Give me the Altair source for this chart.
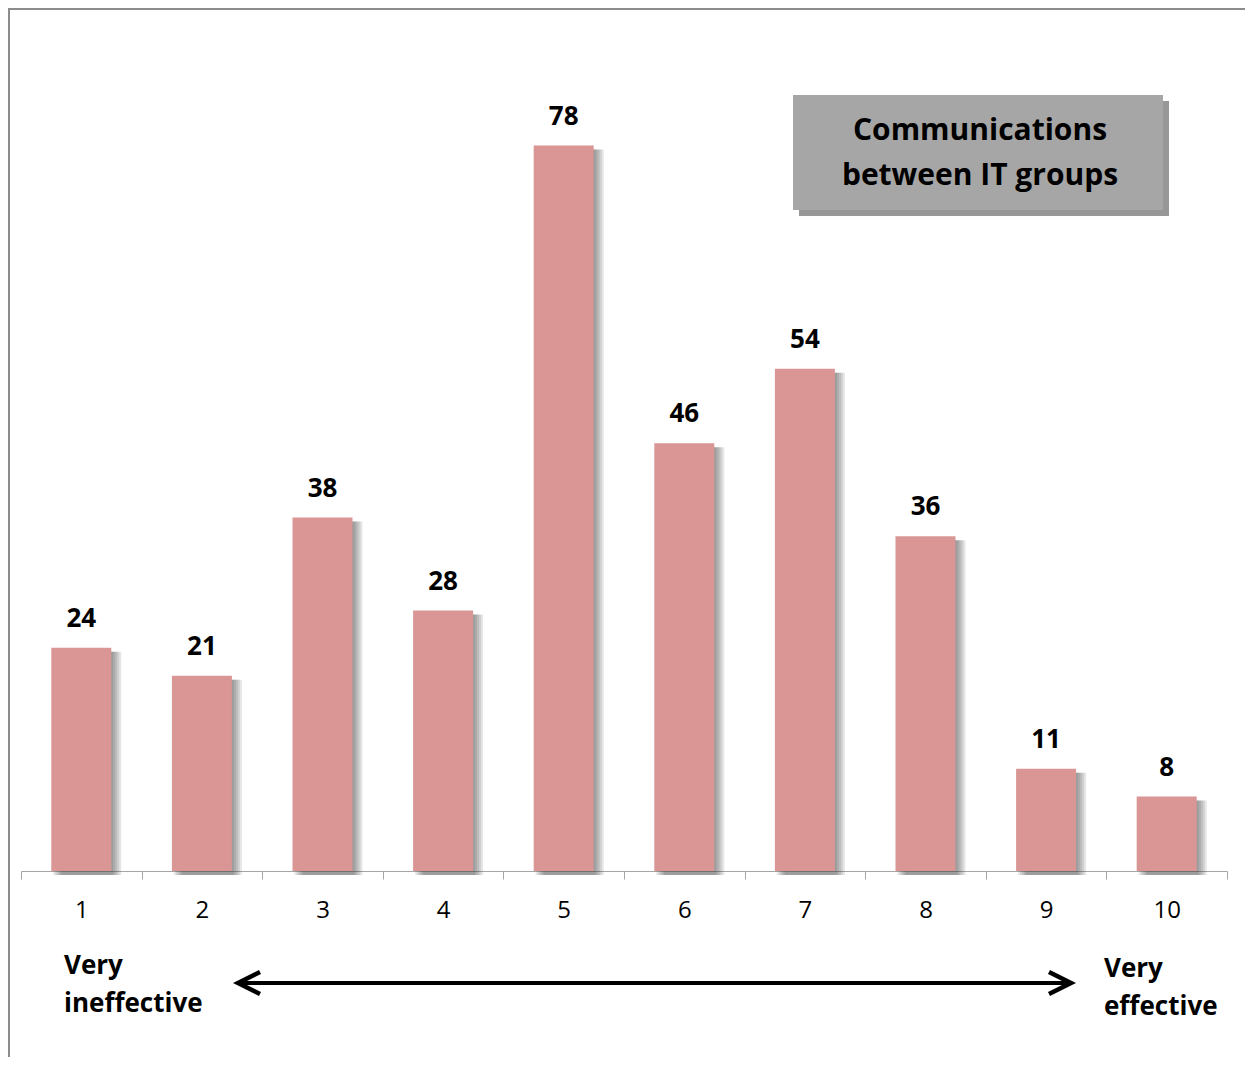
import altair as alt
import pandas as pd

# ---- data ----
categories = [1, 2, 3, 4, 5, 6, 7, 8, 9, 10]
values = [24, 21, 38, 28, 78, 46, 54, 36, 11, 8]
title_text = "Communications\nbetween IT groups"
left_text = "Very\nineffective"
right_text = "Very\neffective"

df = pd.DataFrame({"rating": categories, "count": values})

W, H = 1206, 837
PAD = {"left": 13, "top": 26, "right": 18, "bottom": 186}
FONT = "Open Sans"
BAR = "#D99694"
AXIS_GRAY = "#A6A6A6"

x = alt.X(
    "rating:O",
    sort=categories,
    scale=alt.Scale(paddingInner=0, paddingOuter=0),
    axis=alt.Axis(
        title=None,
        grid=False,
        domainColor=AXIS_GRAY,
        tickColor=AXIS_GRAY,
        tickSize=8,
        tickBand="extent",
        labelFont=FONT,
        labelFontSize=24,
        labelColor="black",
        labelPadding=19,
        labelAngle=0,
        labelBaseline="top",
        labelAlign="center",
    ),
)
y = alt.Y("count:Q", scale=alt.Scale(domain=[0, 90], nice=False), axis=None)

base = alt.Chart(df)

# soft drop shadow to the right of each bar
shadows = [
    base.mark_bar(width=60, color="#404040", opacity=0.13, xOffset=o, yOffset=4).encode(x=x, y=y)
    for o in (2, 4, 6, 8, 10)
]
bars = base.mark_bar(width=60, color=BAR).encode(x=x, y=y)
labels = base.mark_text(
    dy=-21, fontSize=26, fontWeight="bold", font=FONT, baseline="alphabetic", color="black"
).encode(x=x, y=y, text="count:Q")

one = alt.Chart(pd.DataFrame({"t": [title_text], "l": [left_text], "r": [right_text]}))

# frame (top and left edges of the chart border)
frame_left = one.mark_rule(color="#8C8C8C", strokeWidth=2).encode(
    x=alt.value(-12), y=alt.value(-PAD["top"]), y2=alt.value(H + PAD["bottom"])
)
frame_top = one.mark_rule(color="#8C8C8C", strokeWidth=2).encode(
    x=alt.value(-13), x2=alt.value(W + PAD["right"]), y=alt.value(-25)
)

# title box
box_shadow = one.mark_rect(color="#979797").encode(
    x=alt.value(778), x2=alt.value(1148), y=alt.value(67), y2=alt.value(182)
)
box = one.mark_rect(color="#A6A6A6").encode(
    x=alt.value(772), x2=alt.value(1142), y=alt.value(61), y2=alt.value(176)
)
title = one.mark_text(
    align="center", baseline="alphabetic", font=FONT, fontSize=30, fontWeight="bold",
    lineBreak="\n", lineHeight=45, color="black"
).encode(x=alt.value(959), y=alt.value(106), text="t:N")

# bottom annotations
left_lbl = one.mark_text(
    align="left", baseline="alphabetic", font=FONT, fontSize=26, fontWeight="bold",
    lineBreak="\n", lineHeight=38, color="black"
).encode(x=alt.value(43), y=alt.value(940), text="l:N")
right_lbl = one.mark_text(
    align="left", baseline="alphabetic", font=FONT, fontSize=26, fontWeight="bold",
    lineBreak="\n", lineHeight=38, color="black"
).encode(x=alt.value(1083), y=alt.value(943), text="r:N")

arrow_line = one.mark_rule(color="black", strokeWidth=4).encode(
    x=alt.value(219), x2=alt.value(1048), y=alt.value(949)
)
CHEV = "M -1 -1 L 1 0 L -1 1"
head_r = one.mark_point(shape=CHEV, filled=False, stroke="black", strokeWidth=4.5, size=484, opacity=1).encode(
    x=alt.value(1039), y=alt.value(949)
)
head_l = one.mark_point(shape=CHEV, filled=False, stroke="black", strokeWidth=4.5, size=484, opacity=1, angle=180).encode(
    x=alt.value(228), y=alt.value(949)
)

chart = alt.layer(
    frame_left, frame_top, *shadows, bars, labels, box_shadow, box, title,
    left_lbl, right_lbl, arrow_line, head_r, head_l
).properties(
    width=W, height=H, padding=PAD, autosize=alt.AutoSizeParams(type="none"),
    background="white",
).configure_view(stroke=None)

chart.save("out.html", embed_options={"renderer": "svg", "actions": False})
